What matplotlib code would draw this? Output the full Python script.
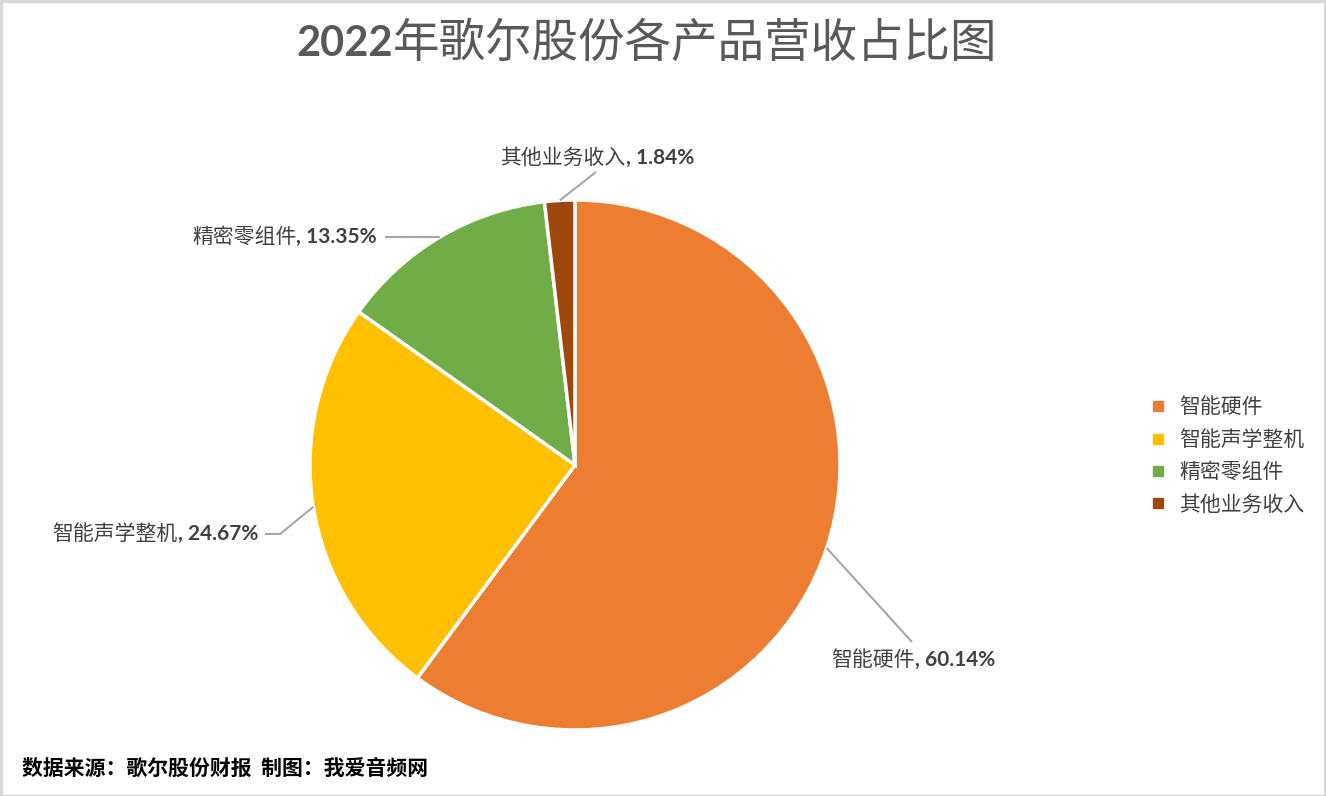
import matplotlib
matplotlib.use("Agg")
import matplotlib.pyplot as plt
from matplotlib.offsetbox import TextArea, HPacker, AnnotationBbox
from matplotlib.lines import Line2D
from matplotlib.patches import Rectangle
import numpy as np

categories = ["智能硬件", "智能声学整机", "精密零组件", "其他业务收入"]
shares = [60.14, 24.67, 13.35, 1.84]
colors = ["#ED7D31", "#FFC000", "#70AD47", "#9E480E"]
title_year = "2022"
title_rest = "年歌尔股份各产品营收占比图"
footer = "数据来源：歌尔股份财报  制图：我爱音频网"

CJK = ["Noto Sans CJK SC", "DejaVu Sans"]
NUM = ["Lato", "Noto Sans CJK SC", "DejaVu Sans"]
plt.rcParams['font.family'] = CJK

W, H = 1326, 796
fig = plt.figure(figsize=(W / 100, H / 100), dpi=100)
ax = fig.add_axes([0, 0, 1, 1])

def Y(y):
    return H - y

cx, cy, R = 575, 465, 265
wedges, _ = ax.pie(shares, colors=colors, startangle=90, counterclock=False,
                   center=(cx, Y(cy)), radius=R,
                   wedgeprops=dict(edgecolor="white", linewidth=2.5))
ax.set_xlim(0, W)
ax.set_ylim(0, H)
ax.set_aspect("equal")
ax.axis("off")

# label layout: (anchor x, anchor y, box alignment x, path points after wedge)
layout = [
    (913, 660, 0.5, [(912, 642)]),
    (258, 534, 1.0, [(280, 534), (265, 534)]),
    (377, 237, 1.0, [(385, 237)]),
    (597, 158, 0.5, [(596, 172)]),
]
line_col = "#A6A6A6"
txt_col = "#404040"
for w, name, pct, (lx, ly, bx, pts) in zip(wedges, categories, shares, layout):
    mid = np.deg2rad((w.theta1 + w.theta2) / 2)
    sx = cx + R * np.cos(mid)
    sy = Y(cy) + R * np.sin(mid)
    xs = [sx] + [p[0] for p in pts]
    ys = [sy] + [Y(p[1]) for p in pts]
    ax.plot(xs, ys, color=line_col, lw=1.5, solid_capstyle="butt")
    t1 = TextArea(name, textprops=dict(fontsize=15, color=txt_col, family=CJK))
    t2 = TextArea(f", {pct:.2f}%", textprops=dict(fontsize=15, color=txt_col,
                                                   weight="bold", family=NUM))
    box = HPacker(children=[t1, t2], pad=0, sep=0, align="baseline")
    ab = AnnotationBbox(box, (lx, Y(ly)), xycoords="data", frameon=False,
                        box_alignment=(bx, 0.5), pad=0)
    ax.add_artist(ab)

# title
fig.text(393 / W, 1 - 44 / H, title_year, ha="right", va="center", fontsize=30,
         weight="bold", color="#595959", family=NUM)
fig.text(393 / W, 1 - 44 / H, title_rest, ha="left", va="center", fontsize=33.5,
         color="#595959", family=CJK)

# legend
handles = [Line2D([0], [0], marker="s", linestyle="none", markersize=7,
                  markerfacecolor=c, markeredgecolor=c) for c in colors]
leg = fig.legend(handles, categories, loc="center left",
                 bbox_to_anchor=(1150 / W, 1 - 456 / H), frameon=False,
                 fontsize=15, handlelength=0.8, handletextpad=0.6,
                 labelspacing=0.5, borderaxespad=0, borderpad=0)
for t in leg.get_texts():
    t.set_color(txt_col)

# footer
fig.text(22 / W, 1 - 768 / H, footer, ha="left", va="center", fontsize=15,
         weight="bold", color="black", family=CJK)

# border
fig.patches.append(Rectangle((0.5 / W, 0.5 / H), 1 - 1.5 / W, 1 - 1.5 / H,
                             transform=fig.transFigure, fill=False,
                             edgecolor="#D9D9D9", linewidth=2.5))

fig.savefig("out.png", dpi=100, facecolor="white")
